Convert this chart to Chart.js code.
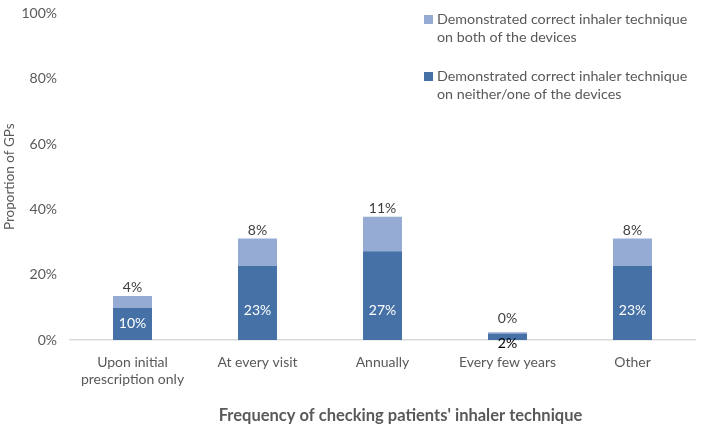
<!DOCTYPE html>
<html>
<head>
<meta charset="utf-8">
<script src="https://cdn.jsdelivr.net/npm/chart.js@4/dist/chart.umd.min.js"></script>
<style>
  html, body { margin:0; padding:0; background:#fff; }
  #wrap { position:relative; width:708px; height:430px; }
  #legend { position:absolute; left:424px; top:10px; font-family:Lato, sans-serif; font-size:14.3px; color:#595959; line-height:18px; }
  .item { position:relative; padding-left:13px; margin-bottom:21px; }
  .sw { position:absolute; left:0; top:5px; width:9px; height:9px; }
</style>
</head>
<body>
<div id="wrap">
<canvas id="c" width="708" height="430"></canvas>
<div id="legend">
  <div class="item"><span class="sw" style="background:#95abd4"></span>Demonstrated correct inhaler technique<br>on both of the devices</div>
  <div class="item"><span class="sw" style="background:#4571a6"></span>Demonstrated correct inhaler technique<br>on neither/one of the devices</div>
</div>
</div>
<script>
const categories = [["Upon initial","prescription only"], "At every visit", "Annually", "Every few years", "Other"];
const neitherOne = [9.9, 22.7, 27.2, 2.0, 22.7];
const bothDevices = [3.6, 8.4, 10.5, 0.4, 8.4];
const yTicks = [0, 20, 40, 60, 80, 100];
const xTitle = "Frequency of checking patients' inhaler technique";

const FONT = "Lato";
const GREY = "#595959";

const labelPlugin = {
  id: 'barLabels',
  afterDatasetsDraw(chart) {
    const ctx = chart.ctx;
    ctx.save();
    ctx.font = "14px " + FONT;
    ctx.textAlign = 'center';
    ctx.textBaseline = 'middle';
    const m0 = chart.getDatasetMeta(0), m1 = chart.getDatasetMeta(1);
    m0.data.forEach((bar, i) => {
      const h = bar.base - bar.y;
      const txt = Math.round(neitherOne[i]) + '%';
      if (h < 20) {
        ctx.fillStyle = '#000';
        ctx.fillText(txt, bar.x, bar.base + 3);
      } else {
        ctx.fillStyle = '#fff';
        ctx.fillText(txt, bar.x, bar.base - Math.min(h / 2, 30));
      }
    });
    m1.data.forEach((bar, i) => {
      const h = bar.base - bar.y;
      ctx.fillStyle = '#404040';
      ctx.fillText(Math.round(bothDevices[i]) + '%', bar.x, bar.y - (h < 5 ? 14 : 8));
    });
    // x axis title (offset to the right as in the original)
    const area = chart.chartArea;
    ctx.font = "bold 16.5px " + FONT;
    ctx.fillStyle = GREY;
    ctx.fillText(xTitle, (area.left + area.right) / 2 + 18, 416);
    ctx.restore();
  }
};

new Chart(document.getElementById('c'), {
  type: 'bar',
  data: {
    labels: categories,
    datasets: [
      { label: 'Demonstrated correct inhaler technique on neither/one of the devices', data: neitherOne, backgroundColor: '#4571a6', barPercentage: 0.312, categoryPercentage: 1.0 },
      { label: 'Demonstrated correct inhaler technique on both of the devices', data: bothDevices, backgroundColor: '#95abd4', barPercentage: 0.312, categoryPercentage: 1.0 }
    ]
  },
  options: {
    responsive: false,
    animation: false,
    layout: { padding: { left: 0, right: 13, top: 13, bottom: 0 } },
    plugins: { legend: { display: false }, tooltip: { enabled: false } },
    scales: {
      x: {
        stacked: true,
        grid: { display: false },
        border: { display: true, color: '#d9d9d9', width: 1.5 },
        ticks: { color: GREY, font: { family: FONT, size: 14 }, padding: 6, maxRotation: 0, autoSkip: false },
        afterFit(s) { s.height = 90; }
      },
      y: {
        stacked: true,
        min: 0, max: 100,
        afterBuildTicks(s) { s.ticks = yTicks.map(v => ({ value: v })); },
        grid: { display: false },
        border: { display: false },
        ticks: { color: GREY, font: { family: FONT, size: 14 }, padding: 5, callback: v => v + '%' },
        title: { display: true, text: 'Proportion of GPs', color: GREY, font: { family: FONT, size: 13.5 }, padding: { top: 2, bottom: 0 } },
        afterFit(s) { s.width = 70; }
      }
    }
  },
  plugins: [labelPlugin]
});
</script>
</body>
</html>
